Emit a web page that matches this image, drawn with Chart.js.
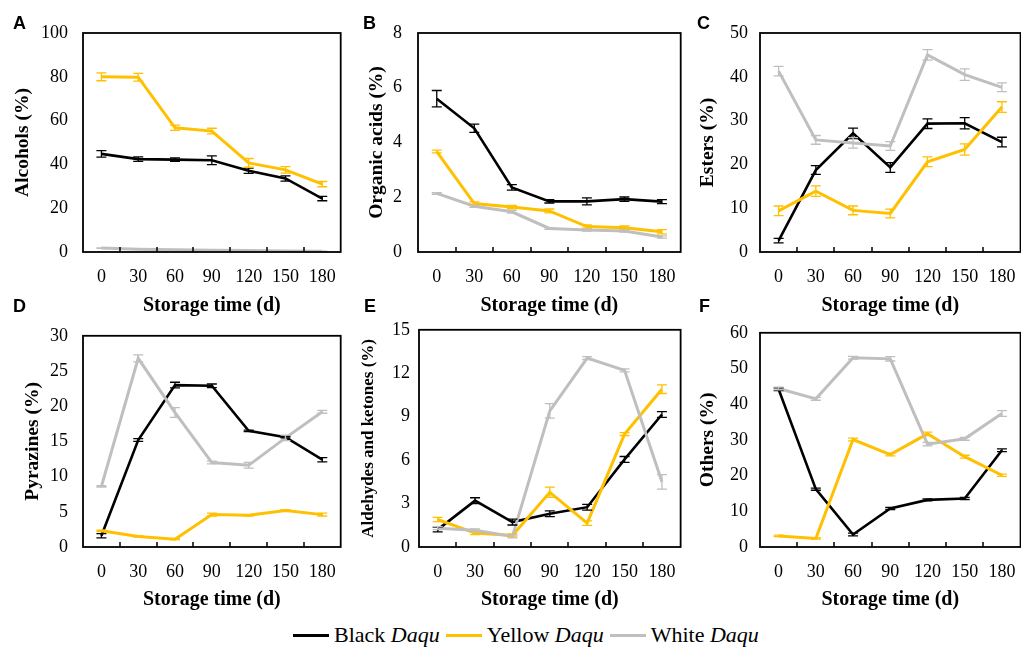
<!DOCTYPE html>
<html>
<head>
<meta charset="utf-8">
<script src="https://cdn.jsdelivr.net/npm/chart.js@4.4.1/dist/chart.umd.min.js"></script>
<style>
    html, body { margin: 0; padding: 0; background: #fff; }
    #page { position: relative; width: 1021px; height: 649px; overflow: hidden; }
    #page canvas { position: absolute; }
    .tag { position: absolute; font: bold 18px "Liberation Sans", Arial, sans-serif; color: #000; line-height: 18px; }
    #legend { position: absolute; left: 293px; top: 622px; height: 26px; display: flex; align-items: center;
              font: 22px "Liberation Serif", "Times New Roman", serif; color: #000; white-space: nowrap; }
    #legend .swatch { display: inline-block; width: 36px; height: 3px; margin-right: 5px; }
    #legend .item { display: flex; align-items: center; margin-right: 6px; }
</style>
</head>
<body>
<div id="page">
    <canvas id="chartA" width="350" height="318" style="left:0;top:0"></canvas>
    <canvas id="chartB" width="340" height="318" style="left:350px;top:0"></canvas>
    <canvas id="chartC" width="340" height="318" style="left:690px;top:0"></canvas>
    <canvas id="chartD" width="350" height="302" style="left:0;top:310px"></canvas>
    <canvas id="chartE" width="340" height="302" style="left:350px;top:310px"></canvas>
    <canvas id="chartF" width="340" height="302" style="left:690px;top:310px"></canvas>
    <div class="tag" style="left:13px;top:14px">A</div>
    <div class="tag" style="left:363px;top:14px">B</div>
    <div class="tag" style="left:697px;top:14px">C</div>
    <div class="tag" style="left:13px;top:297px">D</div>
    <div class="tag" style="left:364px;top:297px">E</div>
    <div class="tag" style="left:699px;top:297px">F</div>
    <div id="legend">
        <span class="item"><span class="swatch" style="background:#000"></span>Black&nbsp;<i>Daqu</i></span>
        <span class="item"><span class="swatch" style="background:#FFC000"></span>Yellow&nbsp;<i>Daqu</i></span>
        <span class="item"><span class="swatch" style="background:#BFBFBF"></span>White&nbsp;<i>Daqu</i></span>
    </div>
</div>
<script>
// storage time (d)
var days = ['0', '30', '60', '90', '120', '150', '180'];

// A - alcohols (%)
var alcoholsBlack = [44.8, 42.4, 42.2, 41.9, 37.1, 33.6, 24.4];
var alcoholsBlackErr = [1.5, 1.0, 0.8, 2.0, 1.2, 1.2, 1.0];
var alcoholsYellow = [80.0, 79.8, 56.7, 55.2, 40.7, 37.5, 31.0];
var alcoholsYellowErr = [1.8, 1.8, 1.2, 1.3, 2.0, 1.5, 1.2];
var alcoholsWhite = [1.8, 1.3, 1.0, 0.8, 0.7, 0.5, 0.3];
var alcoholsWhiteErr = [0.1, 0.1, 0.1, 0.1, 0.1, 0.1, 0.1];

// B - organic acids (%)
var acidsBlack = [5.6, 4.52, 2.36, 1.85, 1.85, 1.93, 1.84];
var acidsBlackErr = [0.3, 0.15, 0.1, 0.06, 0.13, 0.08, 0.07];
var acidsYellow = [3.67, 1.77, 1.64, 1.5, 0.93, 0.89, 0.74];
var acidsYellowErr = [0.05, 0.06, 0.06, 0.07, 0.06, 0.06, 0.08];
var acidsWhite = [2.14, 1.67, 1.47, 0.86, 0.8, 0.77, 0.55];
var acidsWhiteErr = [0.03, 0.04, 0.05, 0.03, 0.04, 0.04, 0.04];

// C - esters (%)
var estersBlack = [2.6, 18.7, 27.1, 19.3, 29.3, 29.4, 25.1];
var estersBlackErr = [0.5, 1.0, 1.2, 1.1, 1.1, 1.3, 1.1];
var estersYellow = [9.4, 13.9, 9.5, 8.8, 20.6, 23.4, 33.1];
var estersYellowErr = [1.1, 1.2, 1.0, 1.0, 1.1, 1.3, 1.2];
var estersWhite = [41.3, 25.6, 24.9, 24.2, 45.0, 40.5, 37.6];
var estersWhiteErr = [1.1, 1.0, 1.2, 1.0, 1.2, 1.3, 1.0];

// D - pyrazines (%)
var pyrazinesBlack = [1.6, 15.2, 23.0, 22.9, 16.5, 15.6, 12.4];
var pyrazinesBlackErr = [0.3, 0.2, 0.4, 0.25, 0.1, 0.1, 0.3];
var pyrazinesYellow = [2.3, 1.5, 1.1, 4.6, 4.5, 5.2, 4.6];
var pyrazinesYellowErr = [0.1, 0.1, 0.05, 0.2, 0.1, 0.1, 0.2];
var pyrazinesWhite = [8.6, 26.8, 19.1, 12.0, 11.6, 15.5, 19.2];
var pyrazinesWhiteErr = [0.1, 0.5, 0.7, 0.2, 0.4, 0.4, 0.2];

// E - aldehydes and ketones (%)
var carbonylsBlack = [1.2, 3.2, 1.72, 2.3, 2.75, 6.05, 9.15];
var carbonylsBlackErr = [0.15, 0.2, 0.2, 0.2, 0.2, 0.2, 0.2];
var carbonylsYellow = [1.9, 0.96, 0.8, 3.78, 1.65, 7.8, 10.9];
var carbonylsYellowErr = [0.15, 0.1, 0.1, 0.35, 0.15, 0.1, 0.3];
var carbonylsWhite = [1.3, 1.15, 0.73, 9.4, 13.05, 12.2, 4.5];
var carbonylsWhiteErr = [0.1, 0.1, 0.1, 0.5, 0.1, 0.1, 0.5];

// F - others (%)
var othersBlack = [44.2, 16.2, 3.5, 10.8, 13.2, 13.6, 27.1];
var othersBlackErr = [0.4, 0.3, 0.4, 0.3, 0.3, 0.3, 0.4];
var othersYellow = [3.1, 2.4, 30.1, 25.9, 31.7, 25.3, 20.1];
var othersYellowErr = [0.2, 0.2, 0.4, 0.4, 0.5, 0.4, 0.3];
var othersWhite = [44.4, 41.5, 53.0, 52.7, 28.8, 30.3, 37.4];
var othersWhiteErr = [0.4, 0.4, 0.4, 0.6, 0.5, 0.4, 0.8];

var SERIF = '"Liberation Serif", "Times New Roman", serif';
Chart.defaults.font.family = SERIF;
Chart.defaults.color = '#000';

// error bars, axis frame and the inner tick marks between categories
var framePlugin = {
    id: 'frame',
    afterDatasetsDraw: function(chart) {
        var ctx = chart.ctx;
        var area = chart.chartArea;
        var x = chart.scales.x;
        var y = chart.scales.y;

        chart.data.datasets.forEach(function(ds, i) {
            var meta = chart.getDatasetMeta(i);
            ctx.save();
            ctx.strokeStyle = ds.borderColor;
            ctx.lineWidth = 1.3;
            ctx.beginPath();
            meta.data.forEach(function(pt, j) {
                var e = ds.errors[j];
                var top = y.getPixelForValue(ds.data[j] + e);
                var bot = y.getPixelForValue(Math.max(0, ds.data[j] - e));
                ctx.moveTo(pt.x, top); ctx.lineTo(pt.x, bot);
                ctx.moveTo(pt.x - 5, top); ctx.lineTo(pt.x + 5, top);
                ctx.moveTo(pt.x - 5, bot); ctx.lineTo(pt.x + 5, bot);
            });
            ctx.stroke();
            ctx.restore();
        });

        ctx.save();
        ctx.strokeStyle = '#000';
        ctx.lineWidth = 1.8;
        ctx.strokeRect(area.left, area.top, area.right - area.left, area.bottom - area.top);
        ctx.beginPath();
        for (var k = 0; k < x.ticks.length - 1; k++) {
            var px = Math.round((x.getPixelForTick(k) + x.getPixelForTick(k + 1)) / 2);
            ctx.moveTo(px, area.bottom);
            ctx.lineTo(px, area.bottom - 5);
        }
        ctx.lineWidth = 1.5;
        ctx.stroke();
        ctx.restore();
    }
};

function series(data, errors, color, width, order) {
    return {
        data: data,
        errors: errors,
        borderColor: color,
        backgroundColor: color,
        borderWidth: width,
        pointRadius: 0,
        tension: 0,
        fill: false,
        order: order
    };
}

function buildPanel(id, yTitle, yMax, yStep, sets, box) {
    var canvas = document.getElementById(id);
    new Chart(canvas.getContext('2d'), {
        type: 'line',
        data: {
            labels: days,
            datasets: [
                series(sets[0], sets[1], '#000000', 2.6, 3),
                series(sets[2], sets[3], '#FFC000', 3, 2),
                series(sets[4], sets[5], '#BFBFBF', 3, 1)
            ]
        },
        plugins: [framePlugin],
        options: {
            responsive: false,
            animation: false,
            layout: { padding: { top: box.top, right: box.right, left: 0, bottom: 0 } },
            plugins: {
                legend: { display: false },
                tooltip: { enabled: false }
            },
            scales: {
                x: {
                    type: 'category',
                    offset: true,
                    grid: { display: false, drawTicks: false },
                    border: { display: false },
                    ticks: { padding: 14, font: { size: 18 }, maxRotation: 0 },
                    title: {
                        display: true,
                        text: 'Storage time (d)',
                        font: { size: 20, weight: 'bold' },
                        padding: { top: 0, bottom: 0 }
                    },
                    afterFit: function(scale) { scale.height = canvas.height - box.bottom; }
                },
                y: {
                    min: 0,
                    max: yMax,
                    grid: { display: false, drawTicks: false },
                    border: { display: false },
                    ticks: { stepSize: yStep, padding: box.tickPad, font: { size: 18 } },
                    title: {
                        display: true,
                        text: yTitle,
                        font: { size: box.titleSize, weight: 'bold' },
                        padding: { top: box.titlePad, bottom: 0 }
                    },
                    afterFit: function(scale) { scale.width = box.left; }
                }
            }
        }
    });
}

buildPanel('chartA', 'Alcohols (%)', 100, 20,
    [alcoholsBlack, alcoholsBlackErr, alcoholsYellow, alcoholsYellowErr, alcoholsWhite, alcoholsWhiteErr],
    { left: 83, right: 3, top: 33, bottom: 252, tickPad: 15, titlePad: 11, titleSize: 19.5 });
buildPanel('chartB', 'Organic acids (%)', 8, 2,
    [acidsBlack, acidsBlackErr, acidsYellow, acidsYellowErr, acidsWhite, acidsWhiteErr],
    { left: 68, right: 8, top: 33, bottom: 252, tickPad: 16, titlePad: 15, titleSize: 19.5 });
buildPanel('chartC', 'Esters (%)', 50, 10,
    [estersBlack, estersBlackErr, estersYellow, estersYellowErr, estersWhite, estersWhiteErr],
    { left: 70, right: 8, top: 33, bottom: 252, tickPad: 12, titlePad: 6, titleSize: 19.5 });
buildPanel('chartD', 'Pyrazines (%)', 30, 5,
    [pyrazinesBlack, pyrazinesBlackErr, pyrazinesYellow, pyrazinesYellowErr, pyrazinesWhite, pyrazinesWhiteErr],
    { left: 83, right: 3, top: 18, bottom: 237, tickPad: 15, titlePad: 21, titleSize: 19.5 });
buildPanel('chartE', 'Aldehydes and ketones (%)', 15, 3,
    [carbonylsBlack, carbonylsBlackErr, carbonylsYellow, carbonylsYellowErr, carbonylsWhite, carbonylsWhiteErr],
    { left: 69, right: 8, top: 18, bottom: 237, tickPad: 9, titlePad: 8, titleSize: 17 });
buildPanel('chartF', 'Others (%)', 60, 10,
    [othersBlack, othersBlackErr, othersYellow, othersYellowErr, othersWhite, othersWhiteErr],
    { left: 70, right: 8, top: 18, bottom: 237, tickPad: 12, titlePad: 6, titleSize: 19.5 });
</script>
</body>
</html>
